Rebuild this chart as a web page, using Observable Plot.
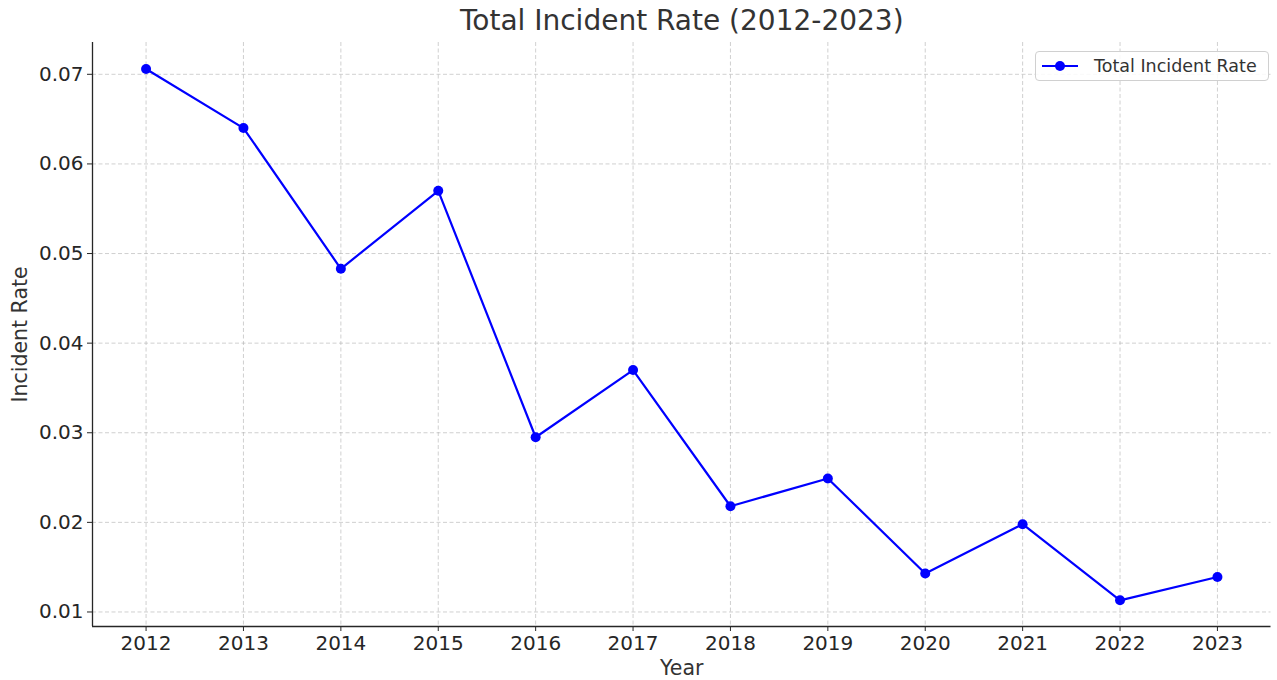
<!DOCTYPE html>
<html><head>
<meta charset="utf-8">
<script src="https://cdn.jsdelivr.net/npm/d3@7"></script>
<script src="https://cdn.jsdelivr.net/npm/@observablehq/plot@0.6"></script>
<style>
body{margin:0;background:#fff;font-family:"DejaVu Sans",sans-serif;}
#wrap{position:relative;width:1277px;height:680px;overflow:hidden}
#legend{position:absolute;left:1035px;top:51px;width:234px;height:30px;border:1px solid #d0d0d0;border-radius:4px;background:rgba(255,255,255,0.85);box-sizing:border-box;display:flex;align-items:center;font-size:17.5px;color:#333;white-space:nowrap}
#legend svg{margin-left:6px;margin-right:12px;flex:none}
</style>
</head><body><div id="wrap"><div id="legend"></div></div>
<script>
const years = [2012,2013,2014,2015,2016,2017,2018,2019,2020,2021,2022,2023];
const rates = [0.0706,0.0640,0.0483,0.0570,0.0295,0.0370,0.0218,0.0249,0.0143,0.0198,0.0113,0.0139];
const yTicks = [0.01,0.02,0.03,0.04,0.05,0.06,0.07];
const title = "Total Incident Rate (2012-2023)";
const xLabel = "Year";
const yLabel = "Incident Rate";
const seriesName = "Total Incident Rate";

const data = years.map((y,i)=>({year:y, rate:rates[i]}));
const xDom = [2011.45, 2023.55];
const yDom = [0.00838, 0.07355];
const gridStyle = {stroke:"#b0b0b0", strokeOpacity:0.75, strokeDasharray:"4,2.5", strokeWidth:0.8};

const plot = Plot.plot({
  width:1277, height:680,
  marginLeft:92, marginRight:6.5, marginTop:42, marginBottom:54,
  style:{fontFamily:"DejaVu Sans, sans-serif", fontSize:"20px", color:"#262626", background:"white", overflow:"visible"},
  x:{domain:xDom, label:null},
  y:{domain:yDom, label:null},
  marks:[
    Plot.gridX(years, gridStyle),
    Plot.gridY(yTicks, gridStyle),
    Plot.axisX(years, {tickSize:5, tickPadding:4, fontSize:20, tickFormat:d=>String(d), label:null, stroke:"#262626"}),
    Plot.axisY(yTicks, {tickSize:5, tickPadding:4, fontSize:20, tickFormat:d3.format(".2f"), label:null, stroke:"#262626"}),
    Plot.ruleY([yDom[0]], {stroke:"#262626", strokeWidth:1.3}),
    Plot.ruleX([xDom[0]], {stroke:"#262626", strokeWidth:1.3}),
    Plot.line(data, {x:"year", y:"rate", stroke:"#0000ff", strokeWidth:2.2}),
    Plot.dot(data, {x:"year", y:"rate", fill:"#0000ff", r:5}),
    Plot.text([title], {frameAnchor:"top", lineAnchor:"middle", textAnchor:"middle", dy:-21, fontSize:28, fill:"#333"}),
    Plot.text([xLabel], {frameAnchor:"bottom", lineAnchor:"middle", textAnchor:"middle", dy:42, fontSize:20.5, fill:"#333"}),
    Plot.text([yLabel], {frameAnchor:"left", lineAnchor:"middle", textAnchor:"middle", dx:-72, rotate:-90, fontSize:20.5, fill:"#333"})
  ]
});
document.getElementById("wrap").prepend(plot);

const lg = document.getElementById("legend");
lg.innerHTML = `<svg width="40" height="14"><line x1="0" y1="7" x2="36" y2="7" stroke="#0000ff" stroke-width="2.2"/><circle cx="18" cy="7" r="5" fill="#0000ff"/></svg><span></span>`;
lg.querySelector("span").textContent = seriesName;
</script>
</body></html>
